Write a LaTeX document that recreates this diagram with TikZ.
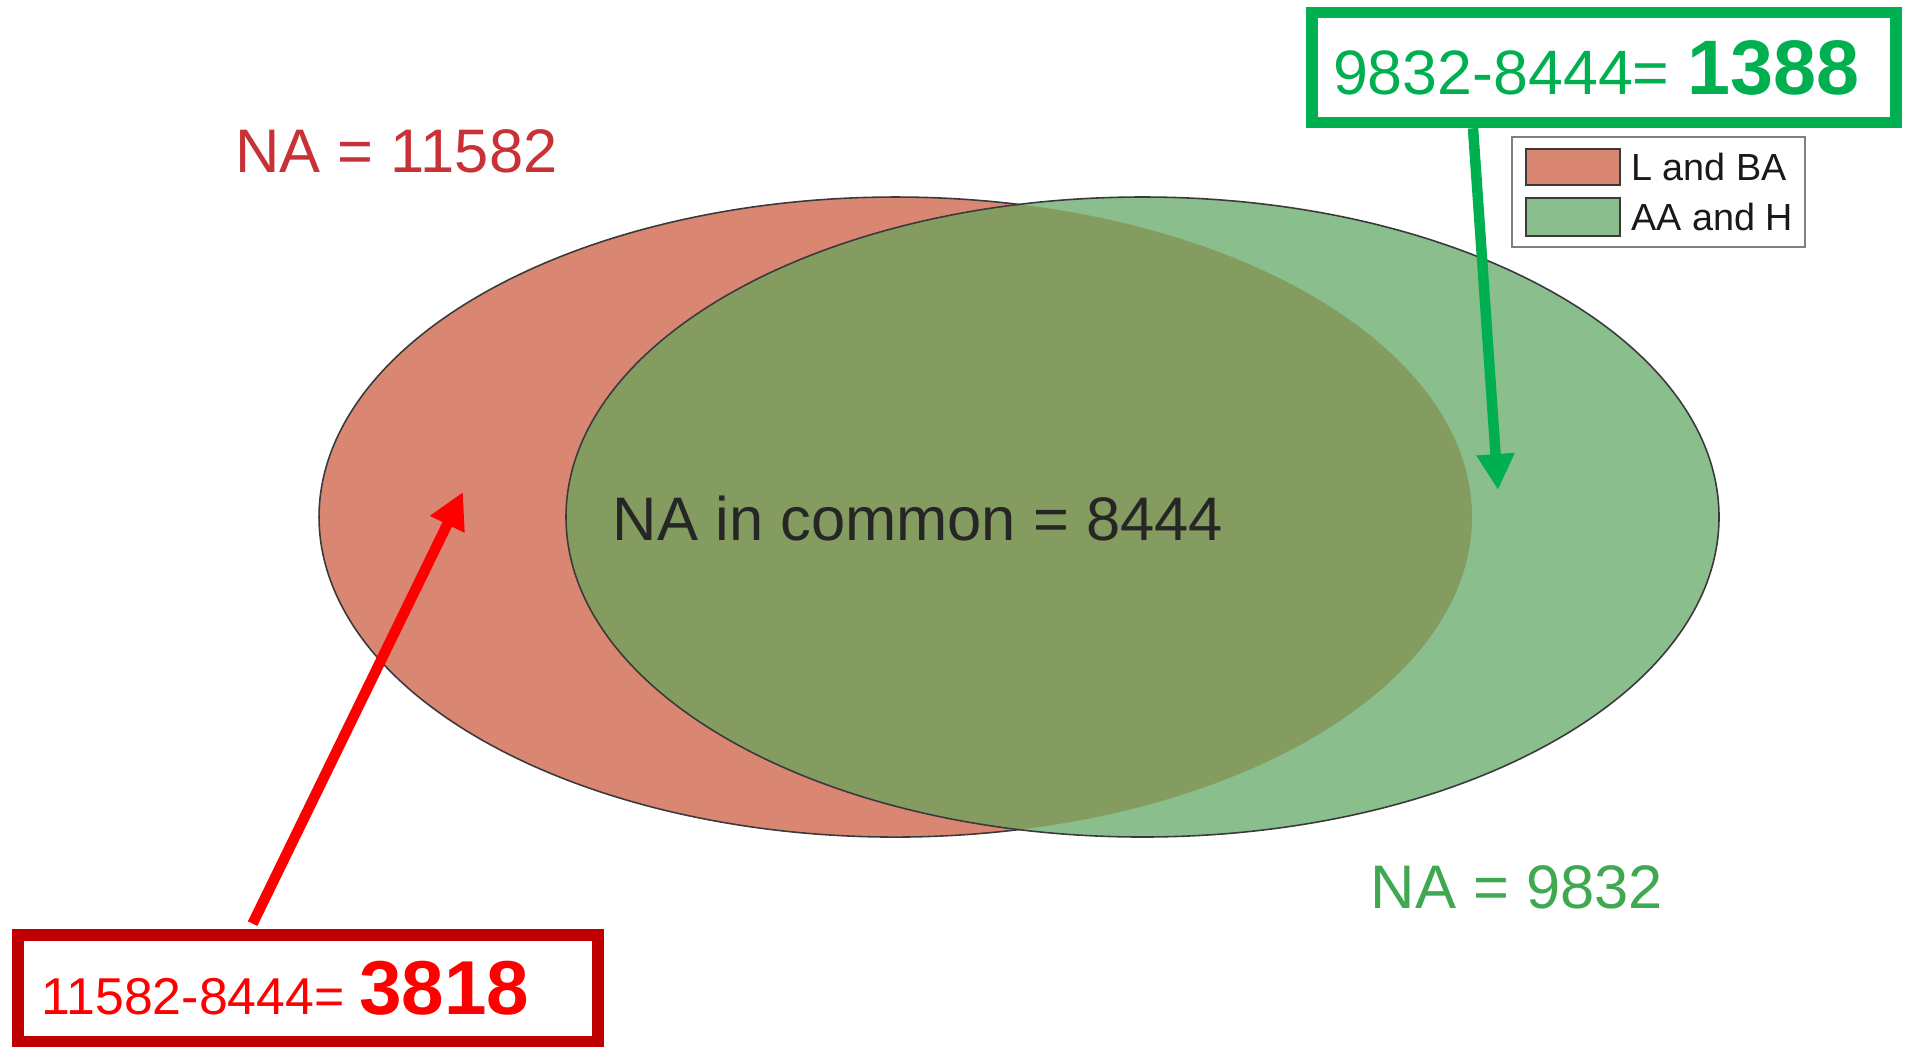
\documentclass[tikz,border=0pt]{standalone}
\usepackage{fontspec}
\setmainfont{Liberation Sans}
\usetikzlibrary{arrows.meta,calc,positioning}

\definecolor{lbafill}{RGB}{217,135,115}
\definecolor{aahfill}{RGB}{138,190,140}
\definecolor{bothfill}{RGB}{132,156,96}
\definecolor{lbared}{RGB}{200,50,55}
\definecolor{aahgreen}{RGB}{64,168,80}
\definecolor{boxgreen}{RGB}{0,176,80}
\definecolor{boxred}{RGB}{192,0,0}
\definecolor{arrowred}{RGB}{255,0,0}
\definecolor{edgegray}{RGB}{58,58,58}
\definecolor{legendgray}{RGB}{128,128,128}

\tikzset{
	venn/.style={x radius=576.5, y radius=320},
	vennedge/.style={draw=edgegray, line width=0.9pt},
	natext/.style={font=\fontsize{35}{42}\selectfont, inner sep=0pt},
	calcbox/.style={draw, align=left, inner ysep=0pt},
	calcarrow/.style={line width=0.21cm, -{Triangle[length=0.72cm, width=0.72cm]}},
	swatch/.style={draw=edgegray, line width=1pt, minimum width=1.88cm, minimum height=0.72cm, inner sep=0pt},
	keytext/.style={font=\fontsize{21.5}{26}\selectfont, text=black!90, inner sep=0pt, anchor=west}
}

\begin{document}
\begin{tikzpicture}[x=0.02cm, y=-0.02cm]
	\useasboundingbox (0,0) rectangle (1905,1046);
	\coordinate (lbac) at (895.5,517);
	\coordinate (aahc) at (1142.5,517);

	% Ellipses
	\fill[lbafill] (lbac) ellipse[venn];
	\fill[aahfill] (aahc) ellipse[venn];
	\begin{scope}
		\clip (lbac) ellipse[venn];
		\fill[bothfill] (aahc) ellipse[venn];
	\end{scope}
	\draw[vennedge] ($(lbac)+(77.6:576.5 and 320)$) arc[start angle=77.6, end angle=282.4, venn];
	\draw[vennedge] (aahc) ellipse[venn];

	% Totals
	\node[natext, text=lbared] (lbatotal) at (396.5,151) {NA = 11582};
	\node[natext, text=aahgreen] (aahtotal) at (1517,887) {NA = 9832};
	\node[natext, text=black!85] (common) at (918,519) {NA in common = 8444};

	% Legend
	\node[draw=legendgray, line width=0.8pt, minimum width=5.86cm, minimum height=2.2cm] (legend) at (1658.5,192) {};
	\node[swatch, fill=lbafill] (lbakey) at (1573,167) {};
	\node[swatch, fill=aahfill, minimum height=0.76cm] (aahkey) at (1573,217) {};
	\node[keytext, right=0.2cm of lbakey] (lbaname) {L and BA};
	\node[keytext, right=0.2cm of aahkey] (aahname) {AA and H};

	% Differences
	\node[calcbox, draw=boxgreen, text=boxgreen, line width=0.23cm, minimum width=11.68cm, minimum height=2.2cm,
		inner xsep=0.42cm, text width=10.84cm] (aahbox) at (1604,67.5)
		{\fontsize{35.7}{42}\selectfont 9832-8444=\hspace{0.28em}{\fontsize{44}{50}\selectfont\bfseries 1388}};
	\node[calcbox, draw=boxred, text=arrowred, line width=0.24cm, minimum width=11.6cm, minimum height=2.14cm,
		inner xsep=0.47cm, text width=10.66cm] (lbabox) at (308,988.5)
		{\fontsize{29.5}{36}\selectfont 11582-8444=\hspace{0.28em}{\fontsize{43.5}{50}\selectfont\bfseries 3818}};

	% Arrows
	\coordinate (lbatip) at (463,492);
	\coordinate (aahtip) at (1498,490);
	\draw[calcarrow, arrowred, shorten <=0.12cm] ($(lbabox.north west)!0.402!(lbabox.north east)$) -- (lbatip);
	\draw[calcarrow, boxgreen] ($(aahbox.south west)!0.28!(aahbox.south east)$) -- (aahtip);

\end{tikzpicture}
\end{document}
